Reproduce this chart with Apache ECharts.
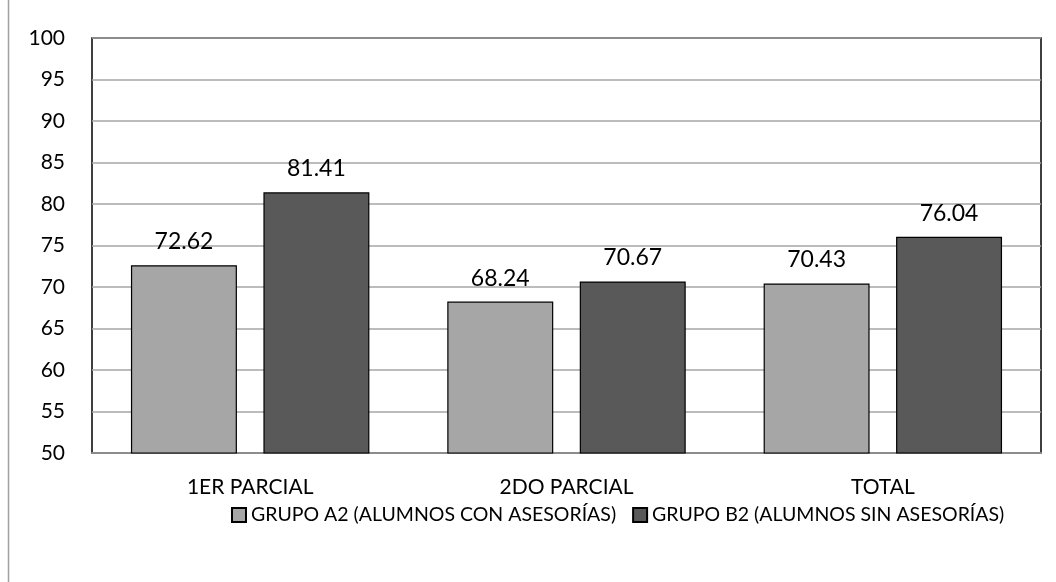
<!DOCTYPE html>
<html>
<head>
<meta charset="utf-8">
<script src="https://cdn.jsdelivr.net/npm/echarts@6/dist/echarts.min.js"></script>
<style>
  html, body { margin: 0; padding: 0; background: #fff; }
  #chart { width: 1056px; height: 582px; }
</style>
</head>
<body>
<div id="chart"></div>
<script>
const categories = ['1ER PARCIAL', '2DO PARCIAL', 'TOTAL'];
const grupoA2 = [72.62, 68.24, 70.43];
const grupoB2 = [81.41, 70.67, 76.04];
const seriesNames = ['GRUPO A2 (ALUMNOS CON ASESORÍAS)', 'GRUPO B2 (ALUMNOS SIN ASESORÍAS)'];

const font = 'Lato, "Open Sans", sans-serif';
let myChart = echarts.init(document.getElementById('chart'));

let option = {
    animation: false,
    textStyle: { fontFamily: font },
    graphic: [
        {
            type: 'line',
            shape: { x1: 8.5, y1: 0, x2: 8.5, y2: 582 },
            style: { stroke: '#a0a0a0', lineWidth: 1.5 }
        }
    ],
    grid: {
        left: 92,
        right: 15,
        top: 38,
        bottom: 129,
        show: true,
        borderColor: '#000',
        borderWidth: 1.5,
        backgroundColor: 'transparent'
    },
    legend: {
        bottom: 52,
        left: 226,
        itemWidth: 14,
        itemHeight: 14,
        itemGap: 16,
        icon: 'rect',
        textStyle: { fontSize: 19.5, color: '#000', fontFamily: font }
    },
    xAxis: {
        type: 'category',
        data: categories,
        axisLine: { lineStyle: { color: '#8c8c8c', width: 2 } },
        axisTick: { show: false },
        axisLabel: { fontSize: 21, color: '#000', margin: 24, fontFamily: font }
    },
    yAxis: {
        type: 'value',
        min: 50,
        max: 100,
        interval: 5,
        axisLine: { show: false },
        axisTick: { show: false },
        axisLabel: { fontSize: 21, color: '#000', margin: 27, fontFamily: font },
        splitLine: { lineStyle: { color: '#a6a6a6', width: 1.5 } }
    },
    series: [
        {
            name: seriesNames[0],
            type: 'bar',
            data: grupoA2,
            barWidth: '33.5%',
            barGap: '25%',
            itemStyle: { color: '#a6a6a6', borderColor: '#000', borderWidth: 1.2 },
            label: {
                show: true, position: 'top', distance: 12,
                fontSize: 23, color: '#000', fontFamily: font,
                formatter: p => p.value.toFixed(2)
            }
        },
        {
            name: seriesNames[1],
            type: 'bar',
            data: grupoB2,
            barWidth: '33.5%',
            itemStyle: { color: '#595959', borderColor: '#000', borderWidth: 1.2 },
            label: {
                show: true, position: 'top', distance: 12,
                fontSize: 23, color: '#000', fontFamily: font,
                formatter: p => p.value.toFixed(2)
            }
        }
    ]
};

option && myChart.setOption(option);
</script>
</body>
</html>
